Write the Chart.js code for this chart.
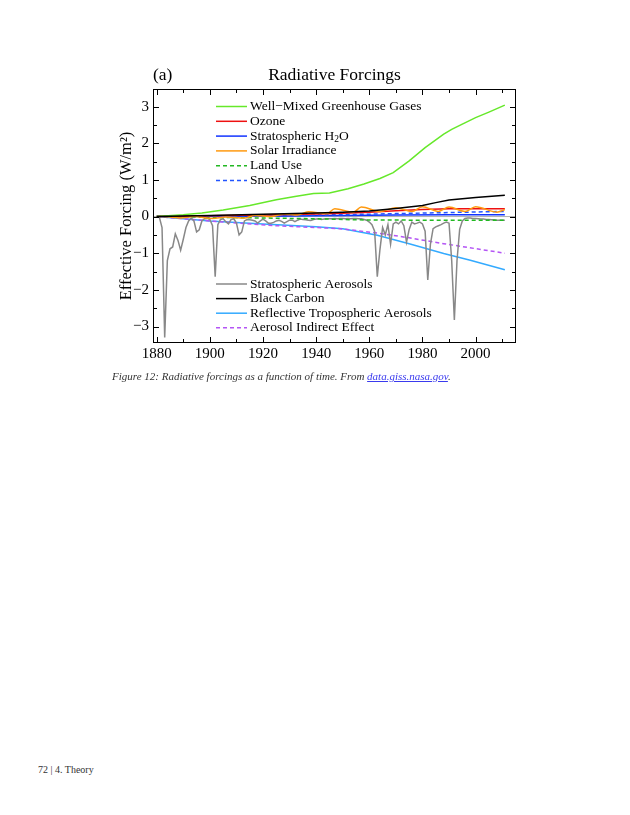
<!DOCTYPE html>
<html><head><meta charset="utf-8">
<script src="https://cdn.jsdelivr.net/npm/chart.js@4.4.1/dist/chart.umd.min.js"></script>
<style>
html,body{margin:0;padding:0;background:#fff;}
body{width:630px;height:815px;position:relative;overflow:hidden;}
#wrap{position:absolute;left:0;top:0;width:630px;height:400px;}
#cap{position:absolute;left:112px;top:370px;font:italic 11px "Liberation Serif",serif;color:#333;white-space:nowrap;}
#cap a{color:#3a3aee;text-decoration:underline;}
#foot{position:absolute;left:38px;top:764px;font:10px "Liberation Serif",serif;color:#333;white-space:nowrap;}
</style></head>
<body>
<div id="wrap"><canvas id="c" width="630" height="400" style="width:630px;height:400px"></canvas></div>
<div id="cap">Figure 12: Radiative forcings as a function of time. From <a>data.giss.nasa.gov</a>.</div>
<div id="foot">72 | 4. Theory</div>
<script>
// ---------- data ----------
const xTicks = [1880, 1900, 1920, 1940, 1960, 1980, 2000];
const xMinorTicks = [1880,1890,1900,1910,1920,1930,1940,1950,1960,1970,1980,1990,2000,2010];
const yTicks = [-3, -2, -1, 0, 1, 2, 3];
const yMinorTicks = [-3,-2.5,-2,-1.5,-1,-0.5,0,0.5,1,1.5,2,2.5,3];

const aerosolStartYear = 1880;
const stratAerosols = [
 0.00,-0.02,-0.30,-3.30,-1.20,-0.88,-0.83,-0.47,-0.65,-0.92,
 -0.62,-0.30,-0.12,-0.04,-0.12,-0.42,-0.36,-0.12,-0.06,-0.05,
 -0.08,-0.25,-1.64,-0.22,-0.08,-0.06,-0.14,-0.20,-0.08,-0.06,
 -0.18,-0.50,-0.42,-0.12,-0.08,-0.09,-0.10,-0.12,-0.18,-0.12,
 -0.07,-0.12,-0.18,-0.18,-0.16,-0.12,-0.10,-0.13,-0.18,-0.14,
 -0.10,-0.10,-0.14,-0.10,-0.07,-0.08,-0.09,-0.10,-0.11,-0.08,
 -0.07,-0.06,-0.08,-0.07,-0.06,-0.06,-0.06,-0.05,-0.06,-0.05,
 -0.05,-0.06,-0.05,-0.06,-0.05,-0.05,-0.06,-0.06,-0.08,-0.10,
 -0.15,-0.22,-0.40,-1.64,-0.90,-0.30,-0.50,-0.22,-0.75,-0.20,
 -0.15,-0.20,-0.12,-0.25,-0.70,-0.35,-0.15,-0.20,-0.18,-0.15,
 -0.20,-0.40,-1.73,-0.75,-0.33,-0.28,-0.25,-0.22,-0.18,-0.15,
 -0.18,-1.20,-2.82,-1.20,-0.35,-0.12,-0.05,-0.04,-0.04,-0.05,
 -0.05,-0.06,-0.07,-0.07,-0.08,-0.08,-0.09,-0.09,-0.10,-0.10,
 -0.10,-0.10
];

const ghgYears = [1880,1890,1897,1905,1915,1925,1932,1939,1945,1952,1958,1964,1969,1975,1981,1988,1991,1995,2000,2005,2011];
const ghgValues = [0,0.05,0.10,0.18,0.30,0.46,0.55,0.63,0.64,0.76,0.89,1.04,1.20,1.52,1.88,2.25,2.38,2.52,2.70,2.85,3.04];

const ozoneYears = [1880,1900,1920,1940,1950,1960,1970,1980,1990,2000,2011];
const ozoneValues = [0,0.02,0.04,0.07,0.09,0.12,0.16,0.19,0.21,0.21,0.21];

const h2oYears = [1880,1920,1950,1970,1990,2011];
const h2oValues = [0,0.01,0.03,0.04,0.05,0.05];

const solarYears = [1880,1883,1889,1894,1901,1906,1913,1917,1923,1928,1933,1937,1944,1947,1954,1957,1964,1970,1976,1980,1986,1990,1996,2000,2008,2011];
const solarValues = [0,0.0,-0.04,0.0,-0.05,-0.01,-0.04,0.03,0.0,0.07,0.04,0.13,0.08,0.21,0.12,0.26,0.14,0.24,0.14,0.27,0.14,0.26,0.14,0.27,0.12,0.19];

const landYears = [1880,1900,1920,1940,1955,1980,2011];
const landValues = [0,-0.02,-0.04,-0.06,-0.09,-0.10,-0.10];

const snowYears = [1880,1920,1950,1970,1990,2011];
const snowValues = [0,0.02,0.05,0.08,0.11,0.14];

const bcYears = [1880,1900,1920,1940,1950,1960,1970,1980,1985,1990,2000,2011];
const bcValues = [0,0.03,0.06,0.10,0.12,0.15,0.22,0.30,0.38,0.45,0.52,0.58];

const rtaYears = [1880,1900,1920,1940,1950,1963,1975,1988,1998,2011];
const rtaValues = [0,-0.12,-0.20,-0.28,-0.33,-0.51,-0.74,-1.01,-1.19,-1.45];

const aieYears = [1880,1900,1925,1949,1963,1975,1988,2011];
const aieValues = [0,-0.12,-0.25,-0.33,-0.45,-0.58,-0.74,-1.00];

// ---------- helpers ----------
const SERIF = '"Liberation Serif","Times New Roman",serif';
const pts = (xs, ys) => xs.map((x, i) => ({x: x, y: ys[i]}));
const aerosolPts = stratAerosols.map((v, i) => ({x: aerosolStartYear + i, y: v}));
const DASH = [4, 3];

const C = {
  ghg: '#66e82a', ozone: '#ee1111', h2o: '#1133ff', solar: '#ff9a10',
  land: '#22b822', snow: '#2255ff', aer: '#888888', bc: '#000000',
  rta: '#33aaff', aie: '#b455f5'
};

function ds(label, data, color, dash, extra) {
  return Object.assign({
    label, data, borderColor: color, backgroundColor: color,
    borderWidth: 1.5, borderDash: dash || [], pointRadius: 0, fill: false, tension: 0
  }, extra || {});
}

const datasets = [
  ds('Black Carbon', pts(bcYears, bcValues), C.bc),
  ds('Well\u2212Mixed Greenhouse Gases', pts(ghgYears, ghgValues), C.ghg),
  ds('Solar Irradiance', pts(solarYears, solarValues), C.solar, null, {cubicInterpolationMode: 'monotone'}),
  ds('Ozone', pts(ozoneYears, ozoneValues), C.ozone),
  ds('Snow Albedo', pts(snowYears, snowValues), C.snow, DASH),
  ds('Stratospheric H2O', pts(h2oYears, h2oValues), C.h2o),
  ds('Land Use', pts(landYears, landValues), C.land, DASH),
  ds('Stratospheric Aerosols', aerosolPts, C.aer),
  ds('Aerosol Indirect Effect', pts(aieYears, aieValues), C.aie, DASH),
  ds('Reflective Tropospheric Aerosols', pts(rtaYears, rtaValues), C.rta)
];

const legendTop = [
  {text: 'Well\u2212Mixed Greenhouse Gases', color: C.ghg},
  {text: 'Ozone', color: C.ozone},
  {text: 'H2O', color: C.h2o},
  {text: 'Solar Irradiance', color: C.solar},
  {text: 'Land Use', color: C.land, dash: DASH},
  {text: 'Snow Albedo', color: C.snow, dash: DASH}
];
const legendBottom = [
  {text: 'Stratospheric Aerosols', color: C.aer},
  {text: 'Black Carbon', color: C.bc},
  {text: 'Reflective Tropospheric Aerosols', color: C.rta},
  {text: 'Aerosol Indirect Effect', color: C.aie, dash: DASH}
];

const framePlugin = {
  id: 'frame',
  beforeDatasetsDraw(chart) {
    const {ctx, chartArea: a, scales: {y}} = chart;
    const y0 = y.getPixelForValue(0);
    ctx.save();
    ctx.strokeStyle = '#b0b0b0'; ctx.lineWidth = 1;
    ctx.beginPath(); ctx.moveTo(a.left, y0); ctx.lineTo(a.right, y0); ctx.stroke();
    ctx.restore();
  },
  afterDatasetsDraw(chart) {
    const {ctx, chartArea: a, scales: {x, y}} = chart;
    ctx.save();
    ctx.strokeStyle = '#000'; ctx.lineWidth = 1;
    ctx.strokeRect(a.left + 0.5, a.top + 0.5, a.right - a.left - 1, a.bottom - a.top - 1);
    ctx.beginPath();
    xMinorTicks.forEach(v => {
      const px = Math.round(x.getPixelForValue(v)) + 0.5;
      const L = xTicks.includes(v) ? 6 : 4;
      ctx.moveTo(px, a.bottom); ctx.lineTo(px, a.bottom - L);
      ctx.moveTo(px, a.top); ctx.lineTo(px, a.top + L);
    });
    yMinorTicks.forEach(v => {
      const py = Math.round(y.getPixelForValue(v)) + 0.5;
      const L = yTicks.includes(v) ? 6 : 4;
      ctx.moveTo(a.left, py); ctx.lineTo(a.left + L, py);
      ctx.moveTo(a.right, py); ctx.lineTo(a.right - L, py);
    });
    ctx.stroke();
    ctx.restore();
  },
  afterDraw(chart) {
    const {ctx, chartArea: a} = chart;
    ctx.save();
    // title
    ctx.fillStyle = '#000';
    ctx.font = '17.5px ' + SERIF;
    ctx.textBaseline = 'alphabetic';
    ctx.textAlign = 'center';
    ctx.fillText('Radiative Forcings', (a.left + a.right) / 2, 80);
    ctx.textAlign = 'left';
    ctx.fillText('(a)', a.left, 80);
    // legends
    const drawLegend = (items, y0, step) => {
      items.forEach((it, i) => {
        const yy = y0 + i * step;
        ctx.strokeStyle = it.color; ctx.lineWidth = 1.5;
        ctx.setLineDash(it.dash || []);
        ctx.beginPath(); ctx.moveTo(216, yy); ctx.lineTo(247, yy); ctx.stroke();
        ctx.setLineDash([]);
        ctx.fillStyle = '#000';
        ctx.textBaseline = 'middle';
        ctx.textAlign = 'left';
        ctx.font = '13.5px ' + SERIF;
        if (it.text === 'H2O') {
          let xx = 250;
          const t1 = 'Stratospheric H';
          ctx.fillText(t1, xx, yy); xx += ctx.measureText(t1).width;
          ctx.font = '9.5px ' + SERIF;
          ctx.fillText('2', xx, yy + 3.5); xx += ctx.measureText('2').width;
          ctx.font = '13.5px ' + SERIF;
          ctx.fillText('O', xx, yy);
        } else {
          ctx.fillText(it.text, 250, yy);
        }
      });
    };
    drawLegend(legendTop, 106.5, 14.8);
    drawLegend(legendBottom, 284, 14.6);
    ctx.restore();
  }
};

new Chart(document.getElementById('c'), {
  type: 'line',
  data: {datasets},
  plugins: [framePlugin],
  options: {
    responsive: false,
    animation: false,
    devicePixelRatio: window.devicePixelRatio || 1,
    layout: {padding: {left: 113, top: 89, right: 114, bottom: 32}},
    plugins: {legend: {display: false}, tooltip: {enabled: false}, title: {display: false}},
    scales: {
      x: {
        type: 'linear', min: 1878.6, max: 2015.2,
        grid: {display: false, drawTicks: false}, border: {display: false},
        afterBuildTicks: s => { s.ticks = xTicks.map(v => ({value: v})); },
        afterFit: s => { s.height = 25; },
        ticks: {padding: 2, color: '#000', font: {family: SERIF, size: 15}, maxRotation: 0, autoSkip: false,
                callback: v => String(v)}
      },
      y: {
        type: 'linear', min: -3.45, max: 3.48,
        grid: {display: false, drawTicks: false}, border: {display: false},
        afterBuildTicks: s => { s.ticks = yTicks.map(v => ({value: v})); },
        afterFit: s => { s.width = 40; },
        title: {display: true, text: 'Effective Forcing (W/m\u00b2)', color: '#000', font: {family: SERIF, size: 16.5}, padding: {top: 4, bottom: 0}},
        ticks: {padding: 4, color: '#000', font: {family: SERIF, size: 15}, autoSkip: false,
                callback: v => (v < 0 ? '\u2212' + Math.abs(v) : String(v))}
      }
    }
  }
});
</script>
</body></html>
